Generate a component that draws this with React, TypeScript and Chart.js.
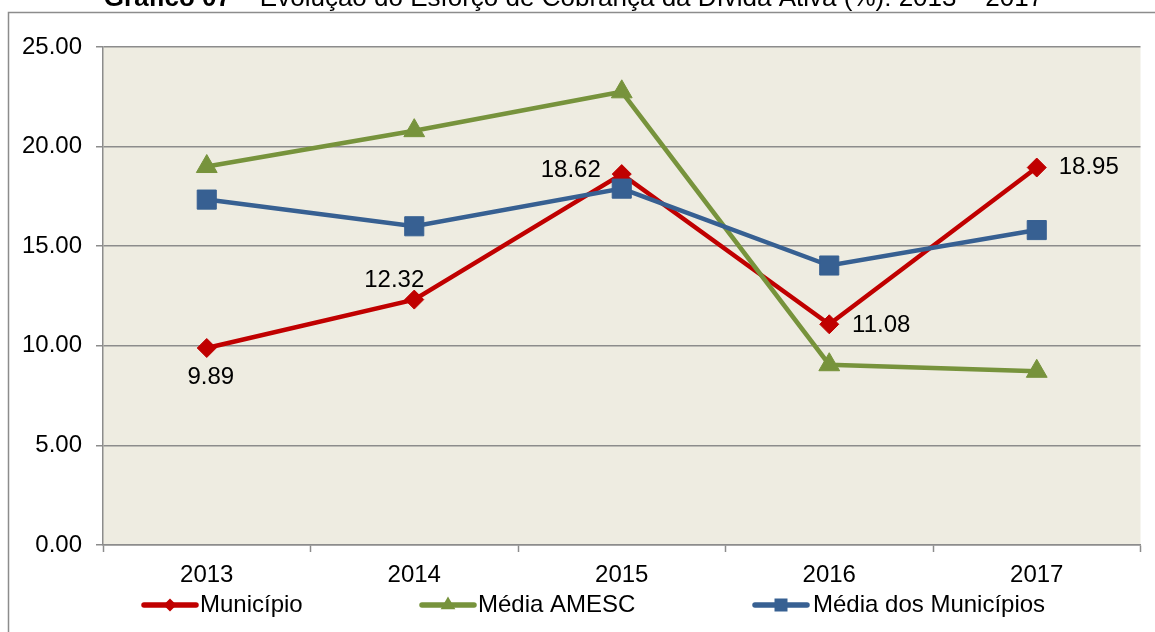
import React, { useEffect, useRef } from 'react';
import { Chart, registerables } from 'chart.js';

Chart.register(...registerables);

// ---- data ----
const categories = ['2013', '2014', '2015', '2016', '2017'];
const seriesNames = ['Município', 'Média AMESC', 'Média dos Municípios'];
const municipio = [9.89, 12.32, 18.62, 11.08, 18.95];
const mediaAmesc = [19.0, 20.8, 22.75, 9.05, 8.72];
const mediaMunicipios = [17.34, 16.0, 17.89, 14.03, 15.81];
const yMin = 0;
const yMax = 25;
const yStep = 5;
const titleBold = 'Gráfico 07';
const titleRest = ' – Evolução do Esforço de Cobrança da Dívida Ativa (%): 2013 – 2017';

// ---- style ----
const FONT = '"Liberation Sans", Arial, sans-serif';
const FS = 24;
const RED = '#C00000';
const GREEN = '#77933C';
const BLUE = '#376092';
const GRID = '#8c8c8c';
const PLOT_BG = '#EEECE1';
const LINE_W = 4.5;
// label offsets (px) for Município value labels, relative to each point
const labelOffsets = [
  [4, 29],
  [-20, -19],
  [-51, -4],
  [52, 1],
  [52, 0],
];
const legendLineStarts = [142, 420, 753];
const legendTextGap = [58, 58, 60];

function drawMarker(ctx: CanvasRenderingContext2D, style: string, x: number, y: number, color: string) {
  ctx.save();
  ctx.fillStyle = color;
  ctx.beginPath();
  if (style === 'rectRot') {
    const r = 6.5;
    ctx.moveTo(x - r, y);
    ctx.lineTo(x, y - r);
    ctx.lineTo(x + r, y);
    ctx.lineTo(x, y + r);
  } else if (style === 'triangle') {
    const r = 8.5;
    ctx.moveTo(x, y - r);
    ctx.lineTo(x + r * 0.866, y + r / 2);
    ctx.lineTo(x - r * 0.866, y + r / 2);
  } else {
    const s = 6.5;
    ctx.rect(x - s, y - s, 2 * s, 2 * s);
  }
  ctx.closePath();
  ctx.fill();
  ctx.restore();
}

const decorPlugin = {
  id: 'decor',
  beforeDraw(chart: any) {
    const { ctx, chartArea: a, width, height } = chart;
    ctx.save();
    ctx.fillStyle = '#ffffff';
    ctx.fillRect(0, 0, width, height);
    ctx.strokeStyle = GRID;
    ctx.lineWidth = 1.5;
    ctx.strokeRect(8.5, 12.5, width + 20, height + 20);
    ctx.fillStyle = PLOT_BG;
    ctx.fillRect(a.left, a.top, a.right - a.left, a.bottom - a.top);
    // title (partly clipped at the top)
    ctx.fillStyle = '#000';
    ctx.textBaseline = 'alphabetic';
    ctx.textAlign = 'left';
    ctx.font = `bold 26px ${FONT}`;
    const wb = ctx.measureText(titleBold).width;
    ctx.font = `26px ${FONT}`;
    const wr = ctx.measureText(titleRest).width;
    const x0 = 573.5 - (wb + wr) / 2;
    ctx.font = `bold 26px ${FONT}`;
    ctx.fillText(titleBold, x0, 6);
    ctx.font = `26px ${FONT}`;
    ctx.fillText(titleRest, x0 + wb, 6);
    ctx.restore();
  },
  afterDatasetsDraw(chart: any) {
    const { ctx } = chart;
    const idx = chart.data.datasets.findIndex((d: any) => d.label === seriesNames[0]);
    const meta = chart.getDatasetMeta(idx);
    ctx.save();
    ctx.fillStyle = '#000';
    ctx.font = `${FS}px ${FONT}`;
    ctx.textAlign = 'center';
    ctx.textBaseline = 'middle';
    meta.data.forEach((pt: any, i: number) => {
      const [dx, dy] = labelOffsets[i];
      ctx.fillText(municipio[i].toFixed(2), pt.x + dx, pt.y + dy);
    });
    ctx.restore();
  },
  afterDraw(chart: any) {
    const { ctx } = chart;
    const colors = [RED, GREEN, BLUE];
    const styles = ['rectRot', 'triangle', 'rect'];
    const y = 605;
    ctx.save();
    seriesNames.forEach((name, i) => {
      const x = legendLineStarts[i];
      ctx.strokeStyle = colors[i];
      ctx.lineWidth = 5.5;
      ctx.lineCap = 'round';
      ctx.beginPath();
      ctx.moveTo(x + 2, y);
      ctx.lineTo(x + 54, y);
      ctx.stroke();
      drawMarker(ctx, styles[i], x + 28, y, colors[i]);
      ctx.fillStyle = '#000';
      ctx.font = `${FS}px ${FONT}`;
      ctx.textAlign = 'left';
      ctx.textBaseline = 'middle';
      ctx.fillText(name, x + legendTextGap[i], y);
    });
    ctx.restore();
  },
};

export default function App() {
  const ref = useRef<HTMLCanvasElement>(null);
  useEffect(() => {
    if (!ref.current) return;
    const chart = new Chart(ref.current, {
      type: 'line',
      data: {
        labels: categories,
        datasets: [
          {
            label: seriesNames[0],
            data: municipio,
            borderColor: RED,
            backgroundColor: RED,
            borderWidth: LINE_W,
            pointStyle: 'rectRot',
            pointRadius: 9.5,
            pointBorderWidth: 1,
            pointBorderColor: RED,
            order: 3,
          },
          {
            label: seriesNames[1],
            data: mediaAmesc,
            borderColor: GREEN,
            backgroundColor: GREEN,
            borderWidth: LINE_W,
            pointStyle: 'triangle',
            pointRadius: 12,
            pointBorderWidth: 1,
            pointBorderColor: GREEN,
            order: 2,
          },
          {
            label: seriesNames[2],
            data: mediaMunicipios,
            borderColor: BLUE,
            backgroundColor: BLUE,
            borderWidth: LINE_W,
            pointStyle: 'rect',
            pointRadius: 13.5,
            pointBorderWidth: 1,
            pointBorderColor: BLUE,
            order: 1,
          },
        ],
      },
      options: {
        responsive: false,
        animation: false,
        layout: { padding: { top: 47, right: 14, left: 0, bottom: 0 } },
        plugins: {
          legend: { display: false },
          title: { display: false },
          tooltip: { enabled: false },
        },
        scales: {
          x: {
            offset: true,
            afterFit: (s: any) => {
              s.height = 87;
            },
            grid: {
              display: true,
              drawOnChartArea: false,
              drawTicks: true,
              tickLength: 7,
              tickColor: GRID,
              tickWidth: 1.5,
              offset: true,
            },
            border: { color: GRID, width: 1.5 },
            ticks: { color: '#000', font: { family: FONT, size: FS }, padding: 9, maxRotation: 0 },
          },
          y: {
            min: yMin,
            max: yMax,
            afterFit: (s: any) => {
              s.width = 103;
            },
            grid: {
              color: GRID,
              lineWidth: 1.5,
              drawTicks: true,
              tickLength: 7,
              tickColor: GRID,
            },
            border: { color: GRID, width: 1.5 },
            ticks: {
              stepSize: yStep,
              color: '#000',
              font: { family: FONT, size: FS },
              padding: 14,
              callback: (v: any) => Number(v).toFixed(2),
            },
          },
        },
      },
      plugins: [decorPlugin],
    });
    return () => chart.destroy();
  }, []);
  return (
    <div style={{ position: 'absolute', left: 0, top: 0, width: 1155, height: 632, background: '#fff' }}>
      <canvas ref={ref} width={1155} height={632} style={{ display: 'block', width: 1155, height: 632 }} />
    </div>
  );
}
